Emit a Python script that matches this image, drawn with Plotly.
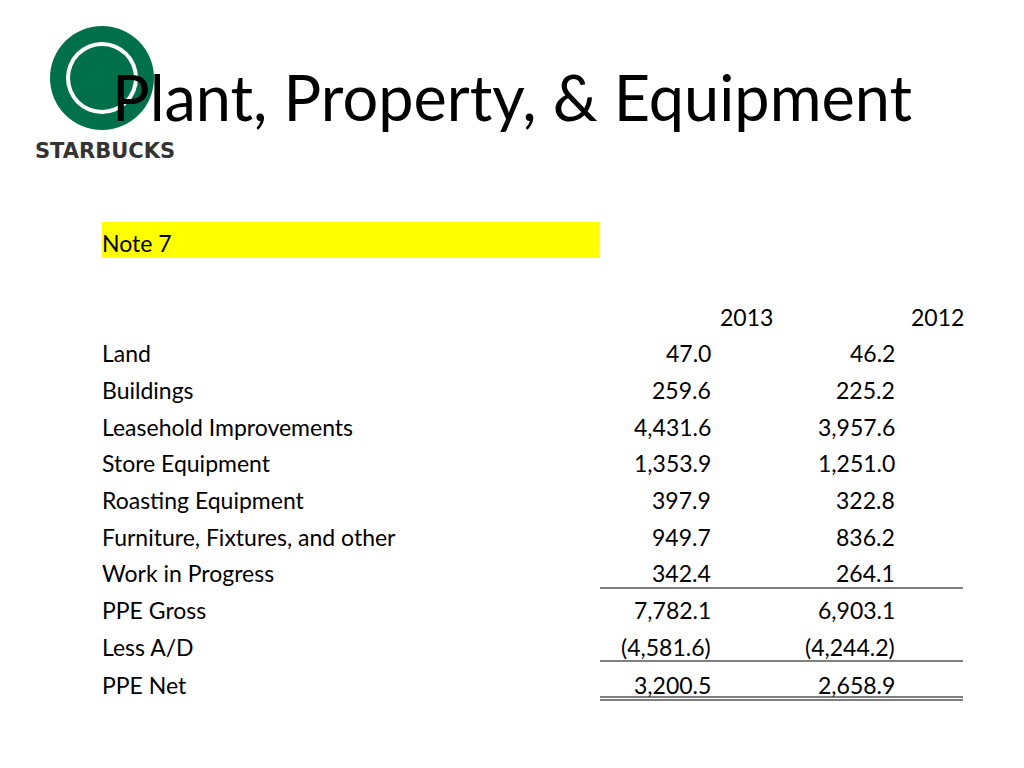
import plotly.graph_objects as go

rows = ["Land", "Buildings", "Leasehold Improvements", "Store Equipment", "Roasting Equipment",
        "Furniture, Fixtures, and other", "Work in Progress", "PPE Gross", "Less A/D", "PPE Net"]
v2013 = ["47.0", "259.6", "4,431.6", "1,353.9", "397.9", "949.7", "342.4", "7,782.1", "(4,581.6)", "3,200.5"]
v2012 = ["46.2", "225.2", "3,957.6", "1,251.0", "322.8", "836.2", "264.1", "6,903.1", "(4,244.2)", "2,658.9"]
years = ["2013", "2012"]
row_y = [353, 390, 427, 463, 500, 537, 573, 610, 647, 685]

D = 8  # page offset compensation
F = "Lato, Open Sans, sans-serif"
fig = go.Figure()
fig.update_layout(width=1024, height=768, margin=dict(l=0, r=0, t=0, b=0),
                  plot_bgcolor="white", paper_bgcolor="white", showlegend=False,
                  xaxis=dict(range=[D, 1024 + D], visible=False, fixedrange=True),
                  yaxis=dict(range=[768 + D, D], visible=False, fixedrange=True))

shapes = [
    dict(type="rect", x0=102, x1=599, y0=222, y1=258, fillcolor="#FFFF00", line_width=0, layer="below"),
    dict(type="circle", x0=50, x1=154, y0=26, y1=130, fillcolor="#00704A", line_width=0, layer="below"),
    dict(type="circle", x0=66, x1=138, y0=42, y1=114, fillcolor="white", line_width=0, layer="below"),
    dict(type="circle", x0=70, x1=134, y0=46, y1=110, fillcolor="#00704A", line_width=0, layer="below"),
    dict(type="line", x0=600, x1=963, y0=588, y1=588, line=dict(color="black", width=1)),
    dict(type="line", x0=600, x1=963, y0=661, y1=661, line=dict(color="black", width=1)),
    dict(type="line", x0=600, x1=963, y0=697, y1=697, line=dict(color="black", width=1)),
    dict(type="line", x0=600, x1=963, y0=700, y1=700, line=dict(color="black", width=1)),
]
fig.update_layout(shapes=shapes)

ann = []
def t(x, y, s, size=23, xanchor="left", color="black", bold=False, family=F):
    ann.append(dict(x=x, y=y, text=f"<b>{s}</b>" if bold else s, showarrow=False, xanchor=xanchor,
                    yanchor="middle", font=dict(family=family, size=size, color=color)))

t(512, 96, "Plant, Property, & Equipment", size=63, xanchor="center")
t(105, 151, "STARBUCKS", size=21, xanchor="center", color="#333333", bold=True, family="DejaVu Sans")
t(100, 243, "Note 7")
t(746, 317, years[0], xanchor="center")
t(966, 317, years[1], xanchor="right")
for lab, a, b, y in zip(rows, v2013, v2012, row_y):
    t(100, y, lab)
    t(713, y, a, xanchor="right")
    t(897, y, b, xanchor="right")
fig.update_layout(annotations=ann)
fig.write_html("out.html")
